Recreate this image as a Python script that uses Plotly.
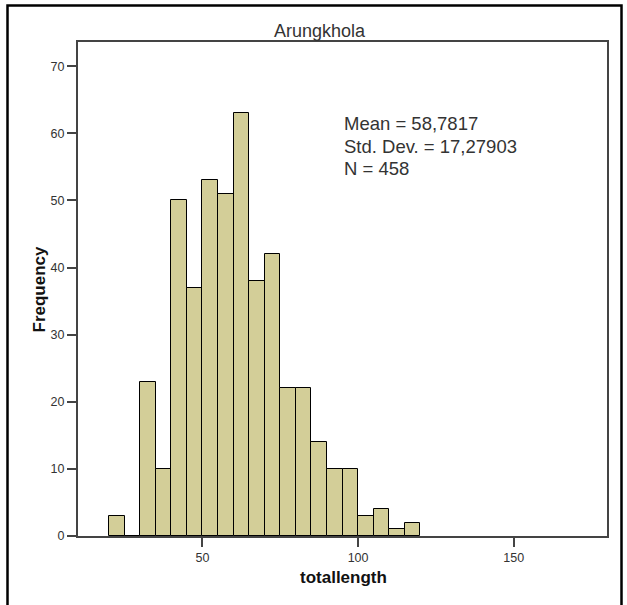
import plotly.graph_objects as go

bin_starts = [20, 25, 30, 35, 40, 45, 50, 55, 60, 65, 70, 75, 80, 85, 90, 95, 100, 105, 110, 115]
counts = [3, 0, 23, 10, 50, 37, 53, 51, 63, 38, 42, 22, 22, 14, 10, 10, 3, 4, 1, 2]
bin_width = 5
x_ticks = [50, 100, 150]
y_ticks = [0, 10, 20, 30, 40, 50, 60, 70]
title = "Arungkhola"
stats_lines = ["Mean = 58,7817", "Std. Dev. = 17,27903", "N = 458"]

centers = [s + bin_width / 2 for s in bin_starts]

FONT = "Liberation Sans, Arial, sans-serif"

fig = go.Figure(
    go.Bar(
        x=centers,
        y=counts,
        width=[bin_width] * len(centers),
        marker=dict(color="#D3CE98", line=dict(color="#000000", width=1)),
        hoverinfo="skip",
    )
)

L, R, T, B = 78, 20, 42, 69
W, H = 627, 605
pw, ph = W - L - R, H - T - B


def px_x(px):
    return (px - L) / pw


def px_y(py):
    return (H - B - py) / ph


axis_common = dict(
    showline=True,
    mirror=True,
    linecolor="#444444",
    linewidth=2,
    ticks="outside",
    ticklen=9,
    tickwidth=1.5,
    tickcolor="#444444",
    showgrid=False,
    zeroline=False,
    tickfont=dict(family=FONT, size=12.5, color="#333333"),
)

fig.update_layout(
    width=W,
    height=H,
    margin=dict(l=L, r=R, t=T, b=B),
    paper_bgcolor="white",
    plot_bgcolor="white",
    showlegend=False,
    bargap=0,
    xaxis=dict(range=[10, 180], tickvals=x_ticks, **axis_common),
    yaxis=dict(range=[0, 73.6], tickvals=y_ticks, **axis_common),
)

annotations = [
    dict(text=title, x=px_x(320), y=px_y(31), xanchor="center", yanchor="middle",
         font=dict(family=FONT, size=18, color="#333333")),
    dict(text="<b>Frequency</b>", x=px_x(38.5), y=0.5, textangle=-90,
         xanchor="center", yanchor="middle",
         font=dict(family=FONT, size=17, color="#111111")),
    dict(text="<b>totallength</b>", x=px_x(343), y=px_y(577.5),
         xanchor="center", yanchor="middle",
         font=dict(family=FONT, size=17, color="#111111")),
]
for line, yc in zip(stats_lines, [123, 146.5, 168.3]):
    annotations.append(dict(text=line, x=px_x(342), y=px_y(yc), xanchor="left",
                            yanchor="middle",
                            font=dict(family=FONT, size=18.5, color="#333333")))
for a in annotations:
    a.update(xref="paper", yref="paper", showarrow=False)
fig.update_layout(annotations=annotations)

fig.add_shape(type="rect", xref="paper", yref="paper",
              x0=px_x(7.5), x1=px_x(621.5), y0=px_y(640), y1=px_y(5.5),
              line=dict(color="black", width=2.5), fillcolor="rgba(0,0,0,0)",
              layer="above")

fig.write_html("out.html")
